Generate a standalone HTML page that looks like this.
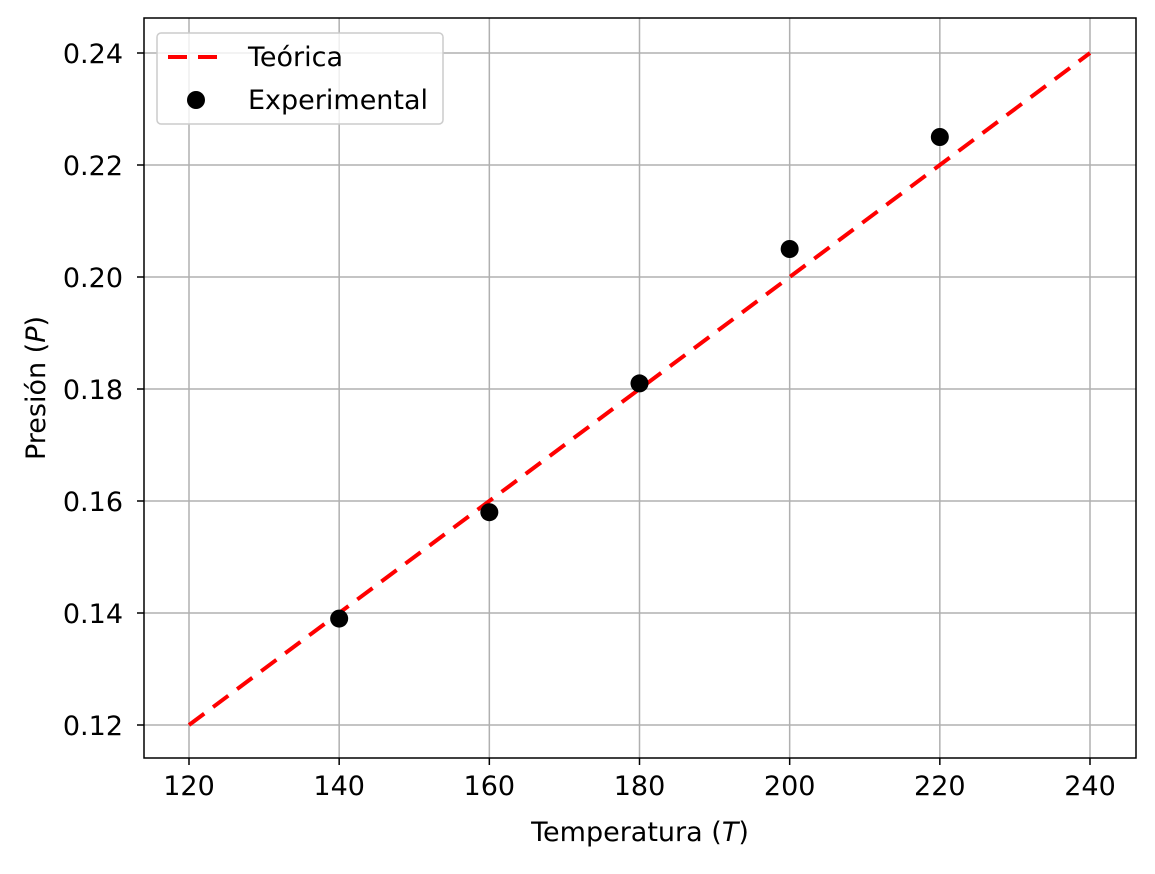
<!DOCTYPE html>
<html><head><meta charset="utf-8"><style>
body{margin:0;background:#fff}
svg text{font-family:"DejaVu Sans","Liberation Sans",sans-serif;font-size:27px;fill:#000}
</style></head><body>
<svg width="1155" height="869">
<g id="grid"></g>
<g id="ticks"></g>
<g id="marks"></g>
<rect x="144" y="18" width="992" height="740" fill="none" stroke="#000" stroke-width="1.5"/>
<text x="640" y="841" text-anchor="middle">Temperatura (<tspan font-style="italic">T</tspan>)</text>
<text transform="translate(45,388) rotate(-90)" text-anchor="middle">Presión (<tspan font-style="italic">P</tspan>)</text>
<g>
<rect x="157" y="33" width="286" height="91" rx="4" fill="#fff" fill-opacity="0.8" stroke="#ccc" stroke-width="1.5"/>
<line x1="168" y1="57" x2="224" y2="57" stroke="red" stroke-width="4" stroke-dasharray="19,11"/>
<text x="248" y="66">Teórica</text>
<circle cx="196" cy="100" r="9" fill="#000"/>
<text x="248" y="109">Experimental</text>
</g>
</svg>
<script>
const xTicks=[120,140,160,180,200,220,240];
const yTicks=[0.12,0.14,0.16,0.18,0.20,0.22,0.24];
const expT=[140,160,180,200,220];
const expP=[0.139,0.158,0.181,0.205,0.225];
const theoT=[120,240];
const theoP=[0.12,0.24];
const X=v=>189+(v-120)*(1090-189)/120;
const Y=v=>725-(v-0.12)*(725-53)/0.12;
const NS="http://www.w3.org/2000/svg";
function mk(t,a,p){const e=document.createElementNS(NS,t);for(const k in a)e.setAttribute(k,a[k]);p.appendChild(e);return e;}
const g=document.getElementById('grid'),tk=document.getElementById('ticks'),m=document.getElementById('marks');
xTicks.forEach(v=>{
const l=mk('line',{x1:X(v),x2:X(v),y1:18,y2:758,stroke:'#b0b0b0','stroke-width':1.5},g);


mk('line',{x1:X(v),x2:X(v),y1:758,y2:765,stroke:'#000','stroke-width':1.5},tk);
const t=mk('text',{x:X(v),y:795,'text-anchor':'middle'},tk);t.textContent=v;


});
yTicks.forEach(v=>{
const l=mk('line',{x1:144,x2:1136,y1:Y(v),y2:Y(v),stroke:'#b0b0b0','stroke-width':1.5},g);


mk('line',{x1:137,x2:144,y1:Y(v),y2:Y(v),stroke:'#000','stroke-width':1.5},tk);
const t=mk('text',{x:123,y:Y(v)+10,'text-anchor':'end'},tk);t.textContent=v.toFixed(2);


});
const ln=mk('line',{x1:X(theoT[0]),y1:Y(theoP[0]),x2:X(theoT[1]),y2:Y(theoP[1]),stroke:'red','stroke-width':4,'stroke-dasharray':'19,11'},m);


expT.forEach((t,i)=>{
const c=mk('circle',{cx:X(t),cy:Y(expP[i]),r:9,fill:'#000'},m);


});
</script>
</body></html>
